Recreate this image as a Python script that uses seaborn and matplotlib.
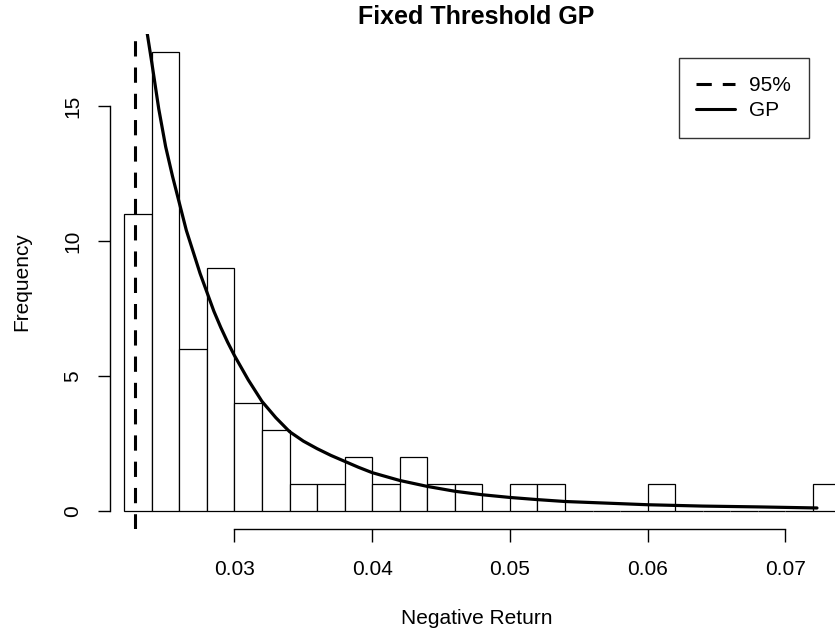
import matplotlib
matplotlib.use("Agg")
import matplotlib.pyplot as plt
import seaborn as sns
from matplotlib.lines import Line2D

# ---- data ----
breaks = [0.022, 0.024, 0.026, 0.028, 0.030, 0.032, 0.034, 0.036, 0.038, 0.040,
          0.042, 0.044, 0.046, 0.048, 0.050, 0.052, 0.054, 0.056, 0.058, 0.060,
          0.062, 0.064, 0.066, 0.068, 0.070, 0.072, 0.074]
counts = [11, 17, 6, 9, 4, 3, 1, 1, 2, 1, 2, 1, 1, 0, 1, 1, 0, 0, 0, 1,
          0, 0, 0, 0, 0, 1]
threshold = 0.02279

curve_x = [0.0236, 0.0240, 0.0245, 0.0250, 0.0255, 0.0260, 0.0265, 0.0270, 0.0275,
           0.0280, 0.0285, 0.0290, 0.0295, 0.0300, 0.0310, 0.0320, 0.0330, 0.0340,
           0.0350, 0.0360, 0.0370, 0.0380, 0.0390, 0.0400, 0.0420, 0.0440, 0.0460,
           0.0480, 0.0500, 0.0520, 0.0540, 0.0580, 0.0600, 0.0640, 0.0680, 0.0723]
curve_y = [17.9, 16.6, 14.9, 13.5, 12.4, 11.4, 10.4, 9.6, 8.8,
           8.1, 7.4, 6.8, 6.25, 5.75, 4.85, 4.05, 3.45, 2.93,
           2.58, 2.30, 2.05, 1.83, 1.61, 1.41, 1.12, 0.90, 0.72,
           0.59, 0.49, 0.41, 0.34, 0.26, 0.22, 0.17, 0.14, 0.10]

xticks = [0.03, 0.04, 0.05, 0.06, 0.07]
xtick_labels = ["0.03", "0.04", "0.05", "0.06", "0.07"]
yticks = [0, 5, 10, 15]
ytick_labels = ["0", "5", "10", "15"]
legend_labels = ["95%", "GP"]

sns.set_style("white")
plt.rcParams['font.family'] = ['Liberation Sans', 'DejaVu Sans']
plt.rcParams['text.color'] = 'black'
plt.rcParams['axes.labelcolor'] = 'black'
plt.rcParams['xtick.color'] = 'black'
plt.rcParams['ytick.color'] = 'black'

FS = 15
W, H = 835, 637
fig = plt.figure(figsize=(W / 100, H / 100), dpi=100)
left_px, right_px, top_px, bot_px = 110, 844, 34, 529
ax = fig.add_axes([left_px / W, 1 - bot_px / H, (right_px - left_px) / W, (bot_px - top_px) / H])

centers = [(breaks[i] + breaks[i + 1]) / 2 for i in range(len(counts))]
sns.histplot(x=centers, weights=counts, bins=breaks, ax=ax, stat="count",
             color="white", edgecolor="black", linewidth=0.9, alpha=1, clip_on=False)

dash = (0, (5.0, 3.6))
ax.axvline(threshold, color="black", lw=2.2, linestyle=dash)
sns.lineplot(x=curve_x, y=curve_y, ax=ax, color="black", lw=2.3, sort=True,
             estimator=None)

x0 = 0.03 - (234.5 - left_px) / 13770
x1 = 0.03 + (right_px - 234.5) / 13770
ax.set_xlim(x0, x1)
ax.set_ylim(-0.68, 17.68)

for s in ["top", "right"]:
    ax.spines[s].set_visible(False)
ax.spines["left"].set_bounds(0, 15)
ax.spines["bottom"].set_bounds(0.03, 0.07)
for s in ["left", "bottom"]:
    ax.spines[s].set_color("black")
    ax.spines[s].set_linewidth(1.0)

ax.set_xticks(xticks)
ax.set_xticklabels(xtick_labels)
ax.set_yticks(yticks)
ax.set_yticklabels(ytick_labels, rotation=90, va="center")
ax.tick_params(axis="both", direction="out", length=9, width=1.0, color="black",
               labelsize=FS, labelcolor="black", bottom=True, left=True)
ax.tick_params(axis="x", pad=13)
ax.tick_params(axis="y", pad=11)

ax.set_xlabel("")
ax.set_ylabel("")
fig.text(477 / W, 1 - 624 / H, "Negative Return", ha="center", va="baseline", fontsize=FS)
fig.text(22 / W, 1 - 282 / H, "Frequency", ha="center", va="center", fontsize=FS, rotation=90)
fig.text(476 / W, 1 - 24 / H, "Fixed Threshold GP", ha="center", va="baseline",
         fontsize=18, fontweight="bold")

handles = [Line2D([], [], color="black", lw=2.2, linestyle=dash),
           Line2D([], [], color="black", lw=2.2)]
leg = ax.legend(handles, legend_labels, loc="upper left",
                bbox_to_anchor=(678.5 / W, 1 - 58.5 / H), bbox_transform=fig.transFigure,
                borderaxespad=0, fontsize=FS, frameon=True, fancybox=False,
                handlelength=1.85, handletextpad=0.7, borderpad=0.85, labelspacing=0.3)
leg.get_frame().set_edgecolor("black")
leg.get_frame().set_linewidth(1.0)

fig.savefig("out.png", dpi=100)
